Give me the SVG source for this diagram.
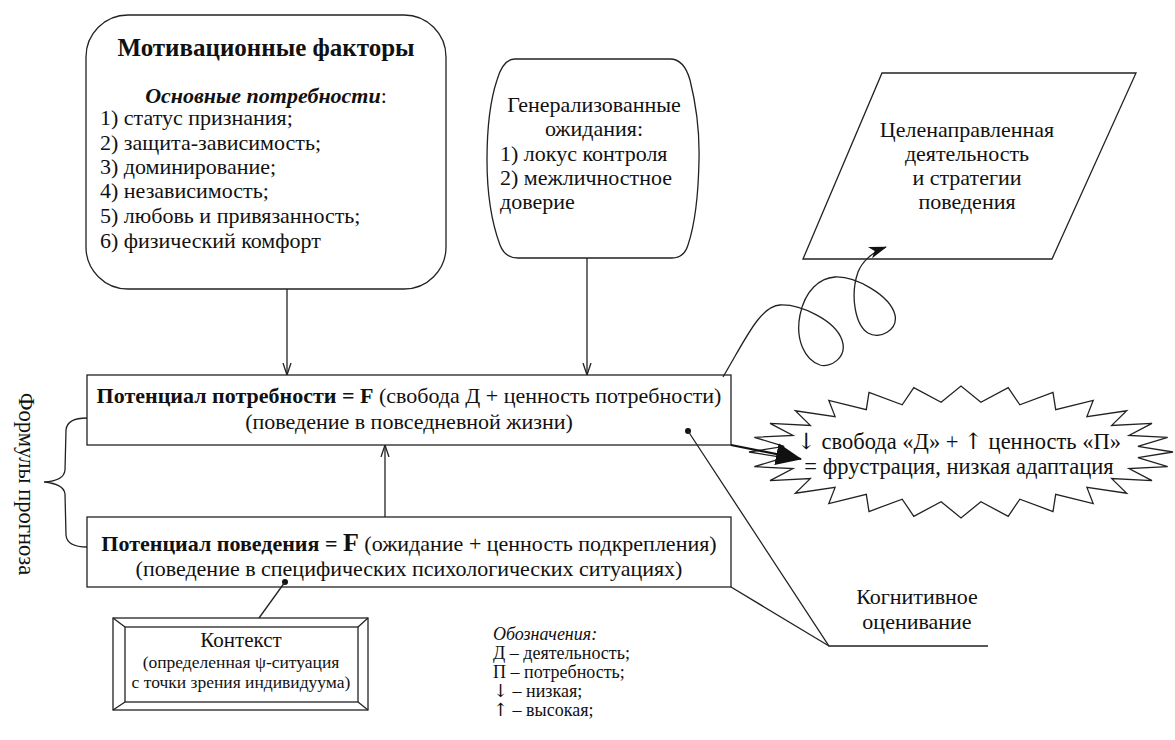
<svg xmlns="http://www.w3.org/2000/svg" width="1175" height="740" viewBox="0 0 1175 740">
<style>
.t{font-family:"Liberation Serif","Times New Roman",serif;font-size:22px;fill:#111}
.s{font-size:17.5px}
.lg{font-size:18px}
.b{font-weight:bold}
.arw{font-family:"DejaVu Serif","DejaVu Sans",serif}
.shape{fill:#fff;stroke:#222;stroke-width:1.3}
.ln{fill:none;stroke:#222;stroke-width:1.3}
</style>
<defs>
<marker id="ar" viewBox="0 0 12 10" refX="12" refY="5" markerWidth="12" markerHeight="10" markerUnits="userSpaceOnUse" orient="auto">
<path d="M0,1 L12,5 L0,9" fill="none" stroke="#222" stroke-width="1.3"/>
</marker>
<marker id="arf" viewBox="0 0 18 12" refX="17" refY="6" markerWidth="18" markerHeight="12" markerUnits="userSpaceOnUse" orient="auto">
<path d="M0,0 L18,6 L0,12 L5,6 Z" fill="#111"/>
</marker>
<marker id="big" viewBox="0 0 26 22" refX="25" refY="11" markerWidth="26" markerHeight="22" markerUnits="userSpaceOnUse" orient="auto">
<path d="M0,0 L26,11 L0,22 Z" fill="#111"/>
</marker>
</defs>

<g id="motivation">
<rect class="shape" x="86" y="15" width="360" height="274" rx="42" ry="42"/>
<text class="t b" x="266" y="56" text-anchor="middle" style="font-size:25px">Мотивационные факторы</text>
<text class="t" x="266" y="103" text-anchor="middle"><tspan font-weight="bold" font-style="italic">Основные потребности</tspan>:</text>
<text class="t" x="100" y="125">1) статус признания;</text>
<text class="t" x="100" y="150">2) защита-зависимость;</text>
<text class="t" x="100" y="174">3) доминирование;</text>
<text class="t" x="100" y="198">4) независимость;</text>
<text class="t" x="100" y="223">5) любовь и привязанность;</text>
<text class="t" x="100" y="248">6) физический комфорт</text>
</g>

<g id="expectations">
<path class="shape" d="M515,59 L670,59 Q684,59 690,80 Q700,120 699,160 Q698,215 688,245 Q684,258 672,258 L518,258 Q505,258 500,245 Q487,210 487,160 Q487,110 497,80 Q503,59 515,59 Z"/>
<text class="t" x="594" y="112" text-anchor="middle">Генерализованные</text>
<text class="t" x="594" y="136" text-anchor="middle">ожидания:</text>
<text class="t" x="500" y="161">1) локус контроля</text>
<text class="t" x="500" y="185">2) межличностное</text>
<text class="t" x="500" y="209">доверие</text>
</g>

<g id="goal">
<polygon class="shape" points="882,73 1136,73 1052,259 803,259"/>
<text class="t" x="967" y="137" text-anchor="middle">Целенаправленная</text>
<text class="t" x="967" y="161" text-anchor="middle">деятельность</text>
<text class="t" x="967" y="185" text-anchor="middle">и стратегии</text>
<text class="t" x="967" y="209" text-anchor="middle">поведения</text>
</g>

<g id="need-potential">
<rect class="shape" x="87" y="375" width="644" height="70"/>
<text class="t" x="409" y="403" text-anchor="middle"><tspan font-weight="bold">Потенциал потребности = F</tspan> (свобода Д + ценность потребности)</text>
<text class="t" x="409" y="429" text-anchor="middle">(поведение в повседневной жизни)</text>
</g>

<g id="behavior-potential">
<rect class="shape" x="87" y="517" width="644" height="70"/>
<text class="t" x="409" y="551" text-anchor="middle"><tspan font-weight="bold">Потенциал поведения = <tspan style="font-size:26px">F</tspan></tspan> (ожидание + ценность подкрепления)</text>
<text class="t" x="409" y="576" text-anchor="middle">(поведение в специфических психологических ситуациях)</text>
</g>

<g id="frustration">
<polygon class="shape" points="1173,452 1137.9,457.6 1167.7,466.7 1129,468.5 1152,480.6 1111.7,478.6 1126.7,493.2 1086.9,487.4 1093.2,503.6 1055.7,494.3 1053,511.5 1019.8,499.2 1008.2,516.3 980.9,501.7 961,518 941.1,501.7 913.8,516.3 902.2,499.2 869,511.5 866.3,494.3 828.8,503.6 835.1,487.4 795.3,493.2 810.3,478.6 770,480.6 793,468.5 754.3,466.7 784.1,457.6 749,452 784.1,446.4 754.3,437.3 793,435.5 770,423.4 810.3,425.4 795.3,410.8 835.1,416.6 828.8,400.4 866.3,409.7 869,392.5 902.2,404.8 913.8,387.7 941.1,402.3 961,386 980.9,402.3 1008.2,387.7 1019.8,404.8 1053,392.5 1055.7,409.7 1093.2,400.4 1086.9,416.6 1126.7,410.8 1111.7,425.4 1152,423.4 1129,435.5 1167.7,437.3 1137.9,446.4"/>
<text class="t" x="959" y="449" text-anchor="middle" style="font-size:22.5px"><tspan class="arw">↓</tspan> свобода «Д» + <tspan class="arw">↑</tspan> ценность «П»</text>
<text class="t" x="959" y="474" text-anchor="middle" style="font-size:22.5px">= фрустрация, низкая адаптация</text>
</g>

<g id="context">
<rect class="shape" x="113" y="618" width="255" height="92"/>
<rect class="shape" x="125" y="627" width="233" height="75"/>
<path class="ln" d="M113,618 L125,627 M368,618 L358,627 M113,710 L125,702 M368,710 L358,702"/>
<text class="t" x="241" y="647" text-anchor="middle" style="font-size:21px">Контекст</text>
<text class="t s" x="241" y="668" text-anchor="middle">(определенная ψ-ситуация</text>
<text class="t s" x="241" y="688" text-anchor="middle">с точки зрения индивидуума)</text>
</g>

<g id="cognitive">
<text class="t" x="917" y="604" text-anchor="middle">Когнитивное</text>
<text class="t" x="917" y="629" text-anchor="middle">оценивание</text>
</g>

<g id="legend">
<text class="t lg" x="493" y="640" font-style="italic">Обозначения:</text>
<text class="t lg" x="493" y="659">Д – деятельность;</text>
<text class="t lg" x="493" y="678">П – потребность;</text>
<text class="t lg" x="493" y="697"><tspan class="arw">↓</tspan> – низкая;</text>
<text class="t lg" x="493" y="716"><tspan class="arw">↑</tspan> – высокая;</text>
</g>

<g id="formulas-label">
<text class="t" transform="translate(19,484) rotate(90)" text-anchor="middle" style="font-size:22.5px">Формулы прогноза</text>
</g>

<g id="connectors">
<line class="ln" x1="287" y1="289" x2="287" y2="375" marker-end="url(#ar)"/>
<line class="ln" x1="587" y1="258" x2="587" y2="375" marker-end="url(#ar)"/>
<line class="ln" x1="385" y1="517" x2="385" y2="445" marker-end="url(#ar)"/>
<path class="ln" d="M87,418 Q67,418 66,430 L65,470 Q64,481 44,482 Q64,484 65,494 L66,535 Q67,547 87,547"/>
<path class="ln" d="M723,377 C745,340 760,306 780,305 C800,304 835,320 842,340 C848,358 830,368 820,365 C805,360 795,340 800,315 C805,290 820,278 835,277 C855,276 890,295 895,315 C898,330 880,340 868,333 C855,325 850,295 858,272 C862,262 872,252 886,247" marker-end="url(#arf)"/>
<line x1="731" y1="445" x2="801" y2="459" stroke="#111" stroke-width="2.2" marker-end="url(#big)"/>
<circle cx="688" cy="431" r="3" fill="#111"/>
<polyline class="ln" points="688,431 829,646 988,646"/>
<line class="ln" x1="731" y1="587" x2="829" y2="646"/>
<circle cx="285" cy="582" r="3" fill="#111"/>
<line class="ln" x1="285" y1="582" x2="259" y2="618"/>
</g>
</svg>
